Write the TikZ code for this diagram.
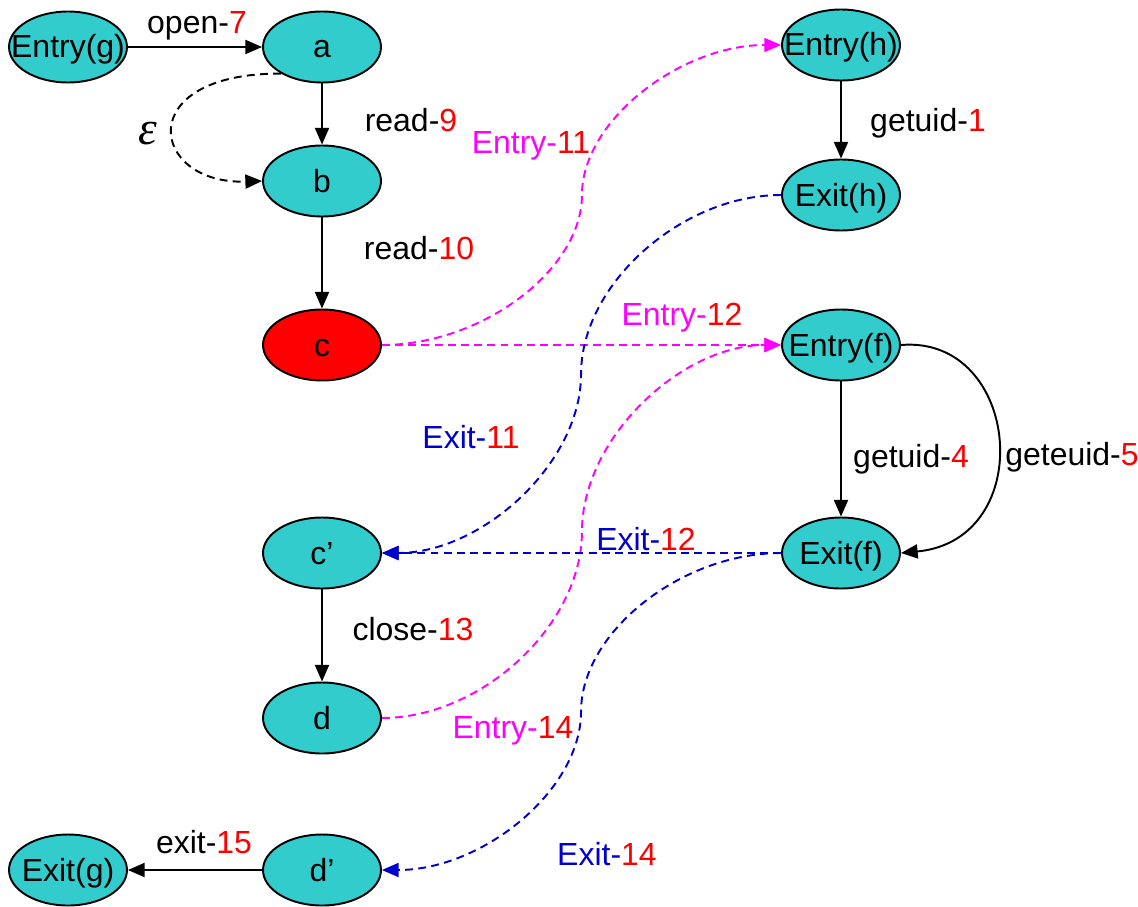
\documentclass[tikz,border=0pt]{standalone}
\usepackage{fontspec}
\setmainfont{Liberation Sans}
\newfontfamily\epsfont{Liberation Serif}
\usetikzlibrary{shapes.geometric,arrows.meta}
\definecolor{tealfill}{RGB}{51,204,204}
\definecolor{mag}{RGB}{255,0,255}
\definecolor{blu}{RGB}{0,0,204}
\definecolor{rd}{RGB}{255,0,0}
\newcommand\nt[1]{\makebox[0pt]{#1}}
\begin{document}
\begin{tikzpicture}[x=0.02cm,y=-0.02cm,
  every node/.style={font=\fontsize{18.2pt}{22pt}\selectfont},
  st/.style={ellipse,draw=black,line width=1.1pt,fill=tealfill,minimum width=2.36cm,minimum height=1.42cm,inner sep=0pt,text height=0.5cm,text depth=0.06cm},
  lbl/.style={anchor=base,inner sep=0pt},
  tip/.style={-{Triangle[length=9.5pt,width=8pt]}},
  solidedge/.style={tip,line width=1.1pt,draw=black},
  blackdash/.style={tip,line width=1.1pt,draw=black,dash pattern=on 4.5pt off 3pt},
  magedge/.style={tip,line width=1.1pt,draw=mag,dash pattern=on 4.5pt off 3pt},
  bluedge/.style={tip,line width=1.1pt,draw=blu,dash pattern=on 4.5pt off 3pt},
]
\useasboundingbox (0,0) rectangle (1138,906);

% nodes
\node[st] (eg) at (68,47) {\nt{Entry(g)}};
\node[st] (a) at (322,47) {\nt{a}};
\node[st] (b) at (322,181) {\nt{b}};
\node[st,fill=rd] (c) at (322,345) {\nt{c}};
\node[st] (cp) at (322,553) {\nt{c’}};
\node[st] (d) at (322,718) {\nt{d}};
\node[st] (dp) at (322,870) {\nt{d’}};
\node[st] (xg) at (68,870) {\nt{Exit(g)}};
\node[st] (eh) at (841,45) {\nt{Entry(h)}};
\node[st] (xh) at (841,195) {\nt{Exit(h)}};
\node[st] (ef) at (841,345) {\nt{Entry(f)}};
\node[st] (xf) at (841,553) {\nt{Exit(f)}};

% solid edges
\draw[solidedge] (eg.east) -- (a.west);
\draw[solidedge] (a) -- (b);
\draw[solidedge] (b) -- (c);
\draw[solidedge] (cp) -- (d);
\draw[solidedge] (dp.west) -- (xg.east);
\draw[solidedge] (eh) -- (xh);
\draw[solidedge] (ef) -- (xf);
\draw[solidedge] (ef.east) .. controls +(120,-10) and +(138,-13) .. (xf.east);

% epsilon edge
\draw[blackdash] (a.213) .. controls (130,73) and (150,185) .. (b.west);

% magenta call edges
\draw[magedge] (c.east) .. controls +(100,0) and +(0,75) .. +(200,-150)
  .. controls +(0,-75) and +(-100,0) .. (eh.west);
\draw[magedge] (c.east) -- (ef.west);
\draw[magedge] (d.east) .. controls +(100,0) and +(0,93.25) .. +(200,-186.5)
  .. controls +(0,-93.25) and +(-100,0) .. (ef.west);

% blue return edges
\draw[bluedge] (xh.west) .. controls +(-100,0) and +(0,-89.5) .. +(-200,179)
  .. controls +(0,89.5) and +(100,0) .. (cp.east);
\draw[bluedge] (xf.west) -- (cp.east);
\draw[bluedge] (xf.west) .. controls +(-100,0) and +(0,-79.25) .. +(-200,158.5)
  .. controls +(0,79.25) and +(100,0) .. (dp.east);

% labels
\node[lbl] (l1) at (197,33) {open-\textcolor{rd}{7}};
\node[lbl] (l2) at (411,131) {read-\textcolor{rd}{9}};
\node[lbl] (l3) at (419,259) {read-\textcolor{rd}{10}};
\node[lbl] (l4) at (928,131) {getuid-\textcolor{rd}{1}};
\node[lbl] (l5) at (911,467) {getuid-\textcolor{rd}{4}};
\node[lbl] (l6) at (1072,465) {geteuid-\textcolor{rd}{5}};
\node[lbl] (l7) at (413,640) {close-\textcolor{rd}{13}};
\node[lbl] (l8) at (204,853) {exit-\textcolor{rd}{15}};
\node[lbl] (l9) at (531,153) {\textcolor{mag}{Entry-}\textcolor{rd}{11}};
\node[lbl] (l10) at (682,325) {\textcolor{mag}{Entry-}\textcolor{rd}{12}};
\node[lbl] (l11) at (513,738) {\textcolor{mag}{Entry-}\textcolor{rd}{14}};
\node[lbl] (l12) at (471,448) {\textcolor{blu}{Exit-}\textcolor{rd}{11}};
\node[lbl] (l13) at (646,550) {\textcolor{blu}{Exit-}\textcolor{rd}{12}};
\node[lbl] (l14) at (607,865) {\textcolor{blu}{Exit-}\textcolor{rd}{14}};
\node (eps) at (148,134) {\epsfont\itshape\fontsize{27pt}{30pt}\selectfont ε};
\end{tikzpicture}
\end{document}
